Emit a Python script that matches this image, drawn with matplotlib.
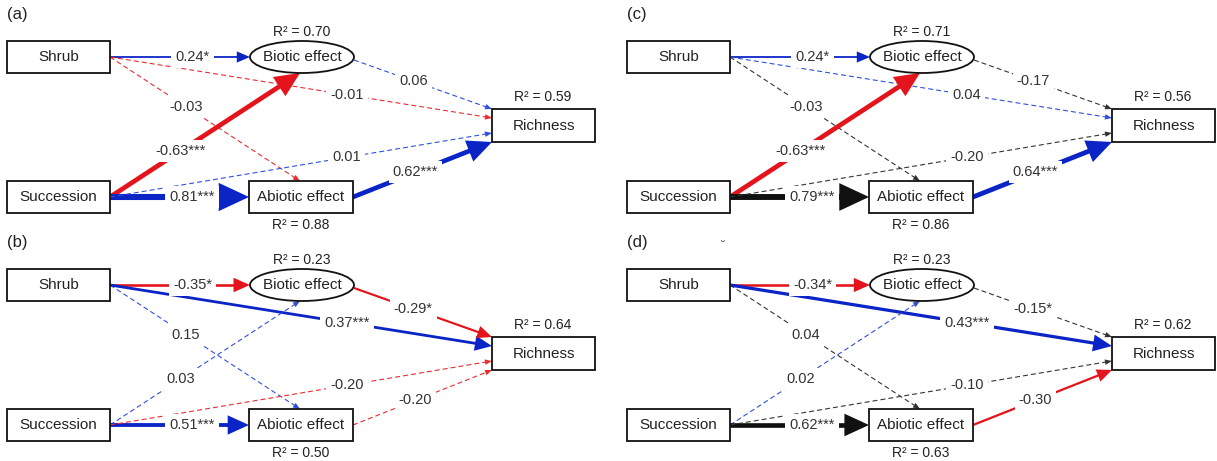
import matplotlib
matplotlib.use("Agg")
import matplotlib.pyplot as plt
from matplotlib.patches import Rectangle, Ellipse, Polygon
import numpy as np

plt.rcParams['font.family'] = ['Liberation Sans', 'DejaVu Sans']

# ---------------- data ----------------
panel_tags = ['(a)', '(b)', '(c)', '(d)']
paths = ['Shrub->Biotic', 'Shrub->Abiotic', 'Shrub->Richness',
         'Succession->Biotic', 'Succession->Abiotic', 'Succession->Richness',
         'Biotic->Richness', 'Abiotic->Richness']

coef_a = [0.24, -0.03, -0.01, -0.63, 0.81, 0.01, 0.06, 0.62]
coef_b = [-0.35, 0.15, 0.37, 0.03, 0.51, -0.20, -0.29, -0.20]
coef_c = [0.24, -0.03, 0.04, -0.63, 0.79, -0.20, -0.17, 0.64]
coef_d = [-0.34, 0.04, 0.43, 0.02, 0.62, -0.10, -0.15, -0.30]

stars_a = ['*', '', '', '***', '***', '', '', '***']
stars_b = ['*', '', '***', '', '***', '', '*', '']
stars_c = ['*', '', '', '***', '***', '', '', '***']
stars_d = ['*', '', '***', '', '***', '', '*', '']

# drawn solid (1) or dashed (0)
solid_a = [1, 0, 0, 1, 1, 0, 0, 1]
solid_b = [1, 0, 1, 0, 1, 0, 1, 0]
solid_c = [1, 0, 0, 1, 1, 0, 0, 1]
solid_d = [1, 0, 1, 0, 1, 0, 0, 1]

# colour code per path: r = red, b = blue, k = black
col_a = ['b', 'r', 'r', 'r', 'b', 'b', 'b', 'b']
col_b = ['r', 'b', 'b', 'b', 'b', 'r', 'r', 'r']
col_c = ['b', 'k', 'b', 'r', 'k', 'k', 'k', 'b']
col_d = ['r', 'k', 'b', 'b', 'k', 'k', 'k', 'r']

r2_biotic = [0.70, 0.23, 0.71, 0.23]
r2_abiotic = [0.88, 0.50, 0.86, 0.63]
r2_richness = [0.59, 0.64, 0.56, 0.62]

coefs = [coef_a, coef_b, coef_c, coef_d]
stars = [stars_a, stars_b, stars_c, stars_d]
solids = [solid_a, solid_b, solid_c, solid_d]
cols = [col_a, col_b, col_c, col_d]

# ---------------- layout (pixel frame of one panel) ----------------
W, H = 1217, 461
offsets = [(0, 0), (0, 228), (620, 0), (620, 228)]
colors = {'r': '#e3141b', 'b': '#0b24c6', 'k': '#111111'}
dash_colors = {'r': '#ea2a2f', 'b': '#2f4fdc', 'k': '#333333'}

shrub_box = (7, 41, 103, 32)
succ_box = (7, 181, 103, 32)
biotic_ell = (302, 57, 104, 32)
abiotic_box = (249, 181, 104, 32)
rich_box = (492, 109, 103, 33)

edge_geom = [((110, 57), (250, 57)),
             ((110, 57), (300, 181)),
             ((110, 57), (492, 118)),
             ((110, 197), (300, 73)),
             ((110, 197), (249, 197)),
             ((110, 197), (492, 133)),
             ((354, 60), (492, 109)),
             ((353, 197), (492, 142))]
label_frac = [0.59, 0.40, 0.62, 0.37, 0.59, 0.62, 0.43, 0.45]

fig = plt.figure(figsize=(W / 100, H / 100), dpi=100)
ax = fig.add_axes([0, 0, 1, 1])
ax.set_xlim(0, W)
ax.set_ylim(H, 0)
ax.axis('off')

NODE_FS = 11
LAB_FS = 10.5
R2_FS = 10


def draw_box(x0, y0, box, text):
    x, y, w, h = box
    ax.add_patch(Rectangle((x0 + x, y0 + y), w, h, fc='white', ec='#111111',
                           lw=1.3, zorder=5))
    ax.text(x0 + x + w / 2, y0 + y + h / 2, text, ha='center', va='center',
            fontsize=NODE_FS, color='#222222', zorder=6)


for p in range(4):
    ox, oy = offsets[p]
    ax.text(ox + 17, oy + 14, panel_tags[p], ha='center', va='center',
            fontsize=12, color='#222222')

    # edges
    for i in range(len(paths)):
        c = coefs[p][i]
        (sx, sy), (ex, ey) = edge_geom[i]
        sx, sy, ex, ey = sx + ox, sy + oy, ex + ox, ey + oy
        d = np.array([ex - sx, ey - sy], float)
        L = np.hypot(*d)
        u = d / L
        n = np.array([-u[1], u[0]])
        if solids[p][i]:
            wpx = 7.5 * abs(c)
            hl = 6 + 30 * abs(c)
            hw = 4 + 30 * abs(c)
            color = colors[cols[p][i]]
            ls = '-'
        else:
            wpx = 1.1
            hl = 7
            hw = 5.5
            color = dash_colors[cols[p][i]]
            ls = (0, (4.5, 2.8))
        tip = np.array([ex, ey])
        base = tip - hl * u
        lend = tip - 0.6 * hl * u
        ax.plot([sx, lend[0]], [sy, lend[1]], color=color, lw=wpx * 0.72,
                linestyle=ls, solid_capstyle='butt', dash_capstyle='butt',
                zorder=2)
        ax.add_patch(Polygon([tip, base + n * hw / 2, base - n * hw / 2],
                             closed=True, fc=color, ec='none', zorder=3))
        f = label_frac[i]
        lx, ly = sx + f * (ex - sx), sy + f * (ey - sy)
        ax.text(lx, ly, f"{c:.2f}{stars[p][i]}", ha='center', va='center',
                fontsize=LAB_FS, color='#333333', zorder=7,
                bbox=dict(boxstyle='square,pad=0.28', fc='white', ec='none'))

    # nodes
    draw_box(ox, oy, shrub_box, 'Shrub')
    draw_box(ox, oy, succ_box, 'Succession')
    draw_box(ox, oy, abiotic_box, 'Abiotic effect')
    draw_box(ox, oy, rich_box, 'Richness')
    cx, cy, ew, eh = biotic_ell
    ax.add_patch(Ellipse((ox + cx, oy + cy), ew, eh, fc='white', ec='#111111',
                         lw=1.3, zorder=5))
    ax.text(ox + cx, oy + cy, 'Biotic effect', ha='center', va='center',
            fontsize=NODE_FS, color='#222222', zorder=6)

    # R² annotations
    ax.text(ox + cx, oy + 32, f"R\u00b2 = {r2_biotic[p]:.2f}", ha='center',
            va='center', fontsize=R2_FS, color='#222222')
    ax.text(ox + 301, oy + 225, f"R\u00b2 = {r2_abiotic[p]:.2f}", ha='center',
            va='center', fontsize=R2_FS, color='#222222')
    ax.text(ox + 543, oy + 97, f"R\u00b2 = {r2_richness[p]:.2f}", ha='center',
            va='center', fontsize=R2_FS, color='#222222')

# small stray mark present in the reference near panel (d)
ax.text(722, 247, '\u02d8', ha='center', va='center', fontsize=9,
        color='#444444')

fig.savefig('out.png', dpi=100)
